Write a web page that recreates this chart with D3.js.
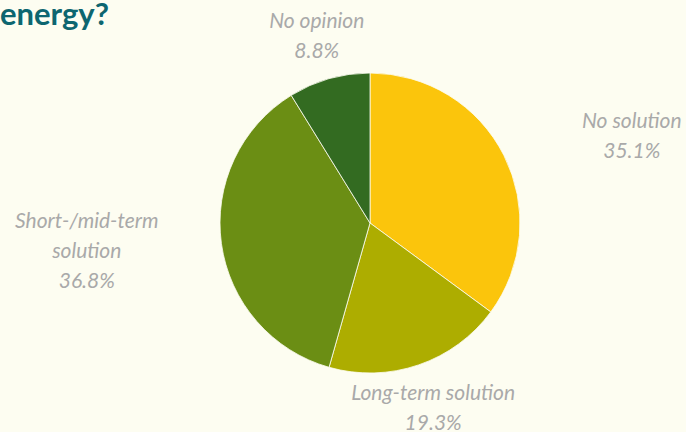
<!DOCTYPE html>
<html>
<head>
<meta charset="utf-8">
<script src="https://cdn.jsdelivr.net/npm/d3@7"></script>
<style>
  html, body { margin: 0; padding: 0; background: #fdfdf1; overflow: hidden; }
  svg { display: block; }
  text { font-family: Lato, "Open Sans", sans-serif; }
</style>
</head>
<body>
<svg id="chart" width="686" height="432"></svg>
<script>
// Answer shares, clockwise from 12 o'clock
const categories = ["No solution", "Long-term solution", "Short-/mid-term solution", "No opinion"];
const shares = [35.1, 19.3, 36.8, 8.8];
const colors = ["#fbc50c", "#adad00", "#6b8e14", "#336b21"];
const titleText = "energy?";

const W = 686, H = 432;
const cx = 370, cy = 223, radius = 150;
const labelR = 195, sideLabelR = 290;
const fontSize = 21;
const lineH = 30;
const wrapWidth = 190;

const svg = d3.select("#chart");
svg.append("rect").attr("width", W).attr("height", H).attr("fill", "#fdfdf1");

svg.append("text")
  .attr("x", 0).attr("y", 25)
  .attr("text-anchor", "start")
  .attr("font-size", 31).attr("font-weight", 700)
  .attr("fill", "#0d6670")
  .text(titleText);

const data = categories.map((c, i) => ({ name: c, value: shares[i], color: colors[i] }));
const pie = d3.pie().sort(null).value(d => d.value);
const arc = d3.arc().innerRadius(0).outerRadius(radius);
const arcs = pie(data);

const g = svg.append("g").attr("transform", `translate(${cx},${cy})`);
g.selectAll("path").data(arcs).join("path")
  .attr("d", arc)
  .attr("fill", d => d.data.color)
  .attr("stroke", "#fdfdf1")
  .attr("stroke-width", 0.8);

// simple word wrap using a measuring text node
const measure = svg.append("text").attr("font-size", fontSize).attr("font-style", "italic").attr("visibility", "hidden");
function wrap(str) {
  const words = str.split(" ");
  const lines = [];
  let cur = "";
  words.forEach(w => {
    const test = cur ? cur + " " + w : w;
    measure.text(test);
    if (measure.node().getComputedTextLength() > wrapWidth && cur) {
      lines.push(cur); cur = w;
    } else cur = test;
  });
  if (cur) lines.push(cur);
  return lines;
}

arcs.forEach(a => {
  const mid = (a.startAngle + a.endAngle) / 2;
  const s = Math.sin(mid), c = Math.cos(mid);
  const side = Math.abs(s) > 0.8;
  // side labels sit a little further out and lean toward the pie
  const x = side ? cx + s * sideLabelR + (s < 0 ? 4 : 3) : cx + s * labelR;
  const yc = cy - c * labelR;
  const lines = wrap(a.data.name).concat([d3.format(".1f")(a.data.value) + "%"]);
  const firstBaseline = yc - (lines.length - 1) * lineH / 2 + 8;
  const t = svg.append("text")
    .attr("text-anchor", "middle")
    .attr("font-size", fontSize)
    .attr("font-style", "italic")
    .attr("fill", "#a9a9a9");
  lines.forEach((ln, i) => {
    t.append("tspan").attr("x", x).attr("y", firstBaseline + i * lineH).text(ln);
  });
});
measure.remove();
</script>
</body>
</html>
